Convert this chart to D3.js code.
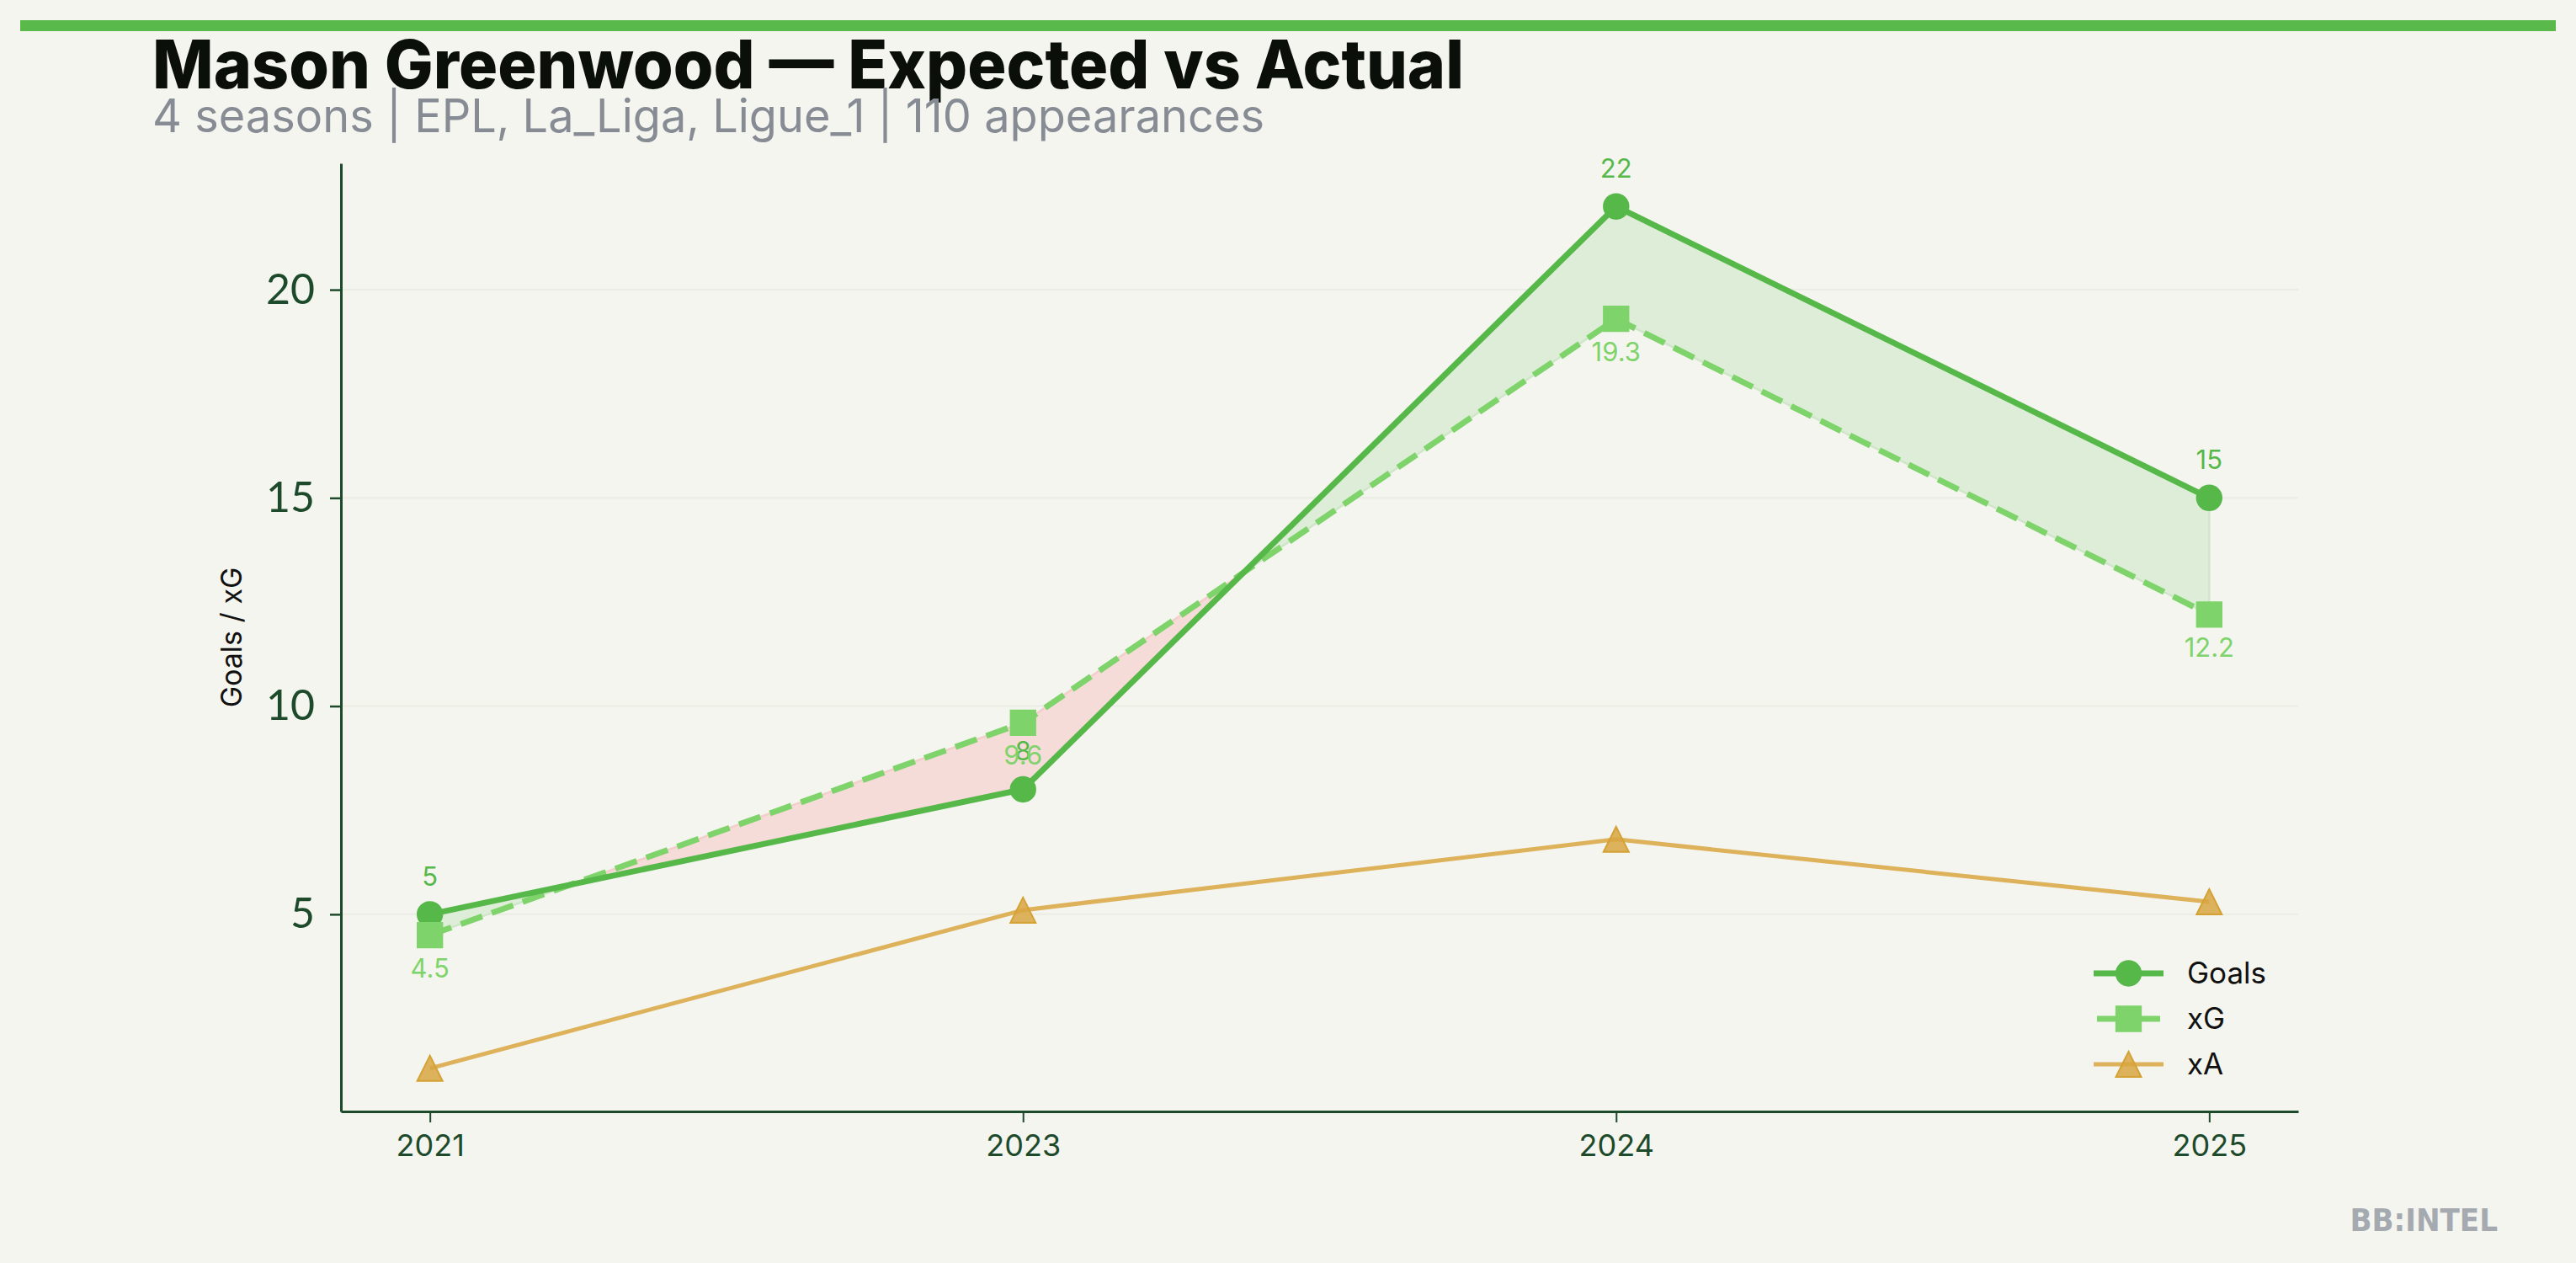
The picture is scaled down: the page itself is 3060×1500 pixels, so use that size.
<!DOCTYPE html>
<html>
<head>
<meta charset="utf-8">
<script src="https://cdn.jsdelivr.net/npm/d3@7"></script>
<style>
  body { margin: 0; background: #f4f5ef; }
  svg { display: block; }
</style>
</head>
<body>
<svg id="chart"></svg>
<script>
var seasons = ["2021", "2023", "2024", "2025"];
var goals = [5, 8, 22, 15];
var xg = [4.5, 9.6, 19.3, 12.2];
var xa = [1.3, 5.1, 6.8, 5.3];
var yTicks = [5, 10, 15, 20];
var legendNames = ["Goals", "xG", "xA"];

var titleText = "Mason Greenwood \u2014 Expected vs Actual";
var subtitleText = "4 seasons | EPL, La_Liga, Ligue_1 | 110 appearances";

var outerWidth = 3060;
var outerHeight = 1500;
var margin = { top: 194, left: 405, right: 330, bottom: 180 };
var width = outerWidth - margin.left - margin.right;
var height = outerHeight - margin.top - margin.bottom;

var cGoals = "#57b84a";
var cXg = "#7ed36a";
var cXa = "#ddb25a";
var cAxis = "#1d4a2a";

var svg = d3.select("#chart").attr("width", outerWidth).attr("height", outerHeight);
svg.append("rect").attr("width", outerWidth).attr("height", outerHeight).attr("fill", "#f4f5ef");

// top bar + titles
svg.append("rect").attr("x", 24).attr("y", 24).attr("width", 3012).attr("height", 13).attr("fill", "#5ab94b");

var title = svg.append("text")
  .attr("x", 181).attr("y", 105)
  .style("font-family", "Inter, 'Noto Sans', sans-serif")
  .style("font-weight", 800)
  .style("font-size", "80px")
  .attr("fill", "#0a0f0a")
  .text(titleText);
if (title.node().getComputedTextLength() > 1558) {
  title.attr("textLength", 1558).attr("lengthAdjust", "spacingAndGlyphs");
}

var sub = svg.append("text")
  .attr("x", 181).attr("y", 157)
  .style("font-family", "Inter, 'Noto Sans', sans-serif")
  .style("font-size", "55px")
  .attr("fill", "#868b94")
  .text(subtitleText);
if (sub.node().getComputedTextLength() > 1321) {
  sub.attr("textLength", 1321).attr("lengthAdjust", "spacingAndGlyphs");
}

var cg = svg.append("g").attr("transform", "translate(" + margin.left + "," + margin.top + ")");

// scales (matplotlib style 5% margins)
var all = goals.concat(xg, xa);
var lo = d3.min(all), hi = d3.max(all);
var pad = (hi - lo) * 0.05;
var y = d3.scaleLinear().domain([lo - pad, hi + pad]).range([height, 0]);
var x = d3.scalePoint().domain(seasons).range([0, width]).padding(0.15);

// grid
cg.append("g").selectAll("line").data(yTicks).enter().append("line")
  .attr("x1", 0).attr("x2", width)
  .attr("y1", (d) => y(d)).attr("y2", (d) => y(d))
  .attr("stroke", "#ebece4").attr("stroke-width", 2);

// fill between goals and xG, split at crossings
var rows = seasons.map((s, i) => ({ x: x(s), g: goals[i], e: xg[i] }));
var segs = [];
var cur = [rows[0]];
for (var i = 0; i < rows.length - 1; i++) {
  var a = rows[i], b = rows[i + 1];
  var da = a.g - a.e, db = b.g - b.e;
  if (da * db < 0) {
    var t = da / (da - db);
    var p = { x: a.x + t * (b.x - a.x), g: a.g + t * (b.g - a.g) };
    p.e = p.g;
    cur.push(p);
    segs.push({ pts: cur, up: da > 0 });
    cur = [p];
  }
  cur.push(b);
}
segs.push({ pts: cur, up: rows[rows.length - 1].g - rows[rows.length - 1].e > 0 });

var area = d3.area().x((d) => d.x).y0((d) => y(d.e)).y1((d) => y(d.g));
cg.append("g").selectAll("path").data(segs).enter().append("path")
  .attr("d", (d) => area(d.pts))
  .attr("fill", (d) => (d.up ? "#ddedd7" : "#f5dcd8"))
  .attr("stroke", (d) => (d.up ? "#d0e6c9" : "#f2cfca"))
  .attr("stroke-width", 2.5);

// axes
var yAxis = d3.axisLeft(y).tickValues(yTicks).tickSize(13).tickPadding(18).tickSizeOuter(0);
var yg = cg.append("g").call(yAxis);
yg.select(".domain").attr("stroke", cAxis).attr("stroke-width", 3);
yg.selectAll(".tick line").attr("stroke", cAxis).attr("stroke-width", 2.5);
yg.selectAll(".tick text")
  .style("font-family", "Lato, Inter, sans-serif")
  .style("font-size", "50px")
  .attr("fill", cAxis);

var xAxis = d3.axisBottom(x).tickSize(13).tickPadding(14).tickSizeOuter(0);
var xgAxis = cg.append("g").attr("transform", "translate(0," + height + ")").call(xAxis);
xgAxis.select(".domain").attr("stroke", cAxis).attr("stroke-width", 3);
xgAxis.selectAll(".tick line").attr("stroke", cAxis).attr("stroke-width", 2);
xgAxis.selectAll(".tick text")
  .style("font-family", "Inter, sans-serif")
  .style("font-size", "36px")
  .attr("fill", cAxis);

svg.append("text")
  .attr("transform", "translate(287," + (margin.top + height / 2) + ") rotate(-90)")
  .attr("text-anchor", "middle")
  .style("font-family", "Inter, sans-serif")
  .style("font-size", "34px")
  .attr("fill", "#111")
  .text("Goals / xG");

// lines
var line = d3.line().x((d, i) => x(seasons[i])).y((d) => y(d));
cg.append("path").attr("d", line(xa)).attr("fill", "none").attr("stroke", cXa).attr("stroke-width", 5);
cg.append("path").attr("d", line(xg)).attr("fill", "none").attr("stroke", cXg).attr("stroke-width", 7).attr("stroke-dasharray", "27,12");
cg.append("path").attr("d", line(goals)).attr("fill", "none").attr("stroke", cGoals).attr("stroke-width", 7);

var triUp = {
  draw: function (ctx, size) {
    var r = Math.sqrt(size) / 2;
    ctx.moveTo(0, -r);
    ctx.lineTo(r, r);
    ctx.lineTo(-r, r);
    ctx.closePath();
  },
};

function markers(vals, type, size, fill, op, stroke) {
  cg.append("g").selectAll("path").data(vals).enter().append("path")
    .attr("transform", (d, i) => "translate(" + x(seasons[i]) + "," + y(d) + ")")
    .attr("d", d3.symbol().type(type).size(size))
    .attr("fill", fill).attr("fill-opacity", op)
    .attr("stroke", stroke).attr("stroke-width", 2);
}
markers(goals, d3.symbolCircle, 680, cGoals, 1, cGoals);
markers(xg, d3.symbolSquare, 860, cXg, 1, cXg);
markers(xa, triUp, 900, "#d8a642", 0.85, "#d5a133");

// value labels
cg.append("g").selectAll("text").data(goals).enter().append("text")
  .attr("x", (d, i) => x(seasons[i])).attr("y", (d) => y(d) - 34)
  .attr("text-anchor", "middle")
  .style("font-family", "Inter, sans-serif").style("font-size", "31px")
  .attr("fill", cGoals)
  .text((d) => d);
cg.append("g").selectAll("text").data(xg).enter().append("text")
  .attr("x", (d, i) => x(seasons[i])).attr("y", (d) => y(d) + 50)
  .attr("text-anchor", "middle")
  .style("font-family", "Inter, sans-serif").style("font-size", "31px")
  .attr("fill", cXg)
  .text((d) => d);

// legend
var lg = svg.append("g").attr("transform", "translate(2487,1156)");
var items = [
  { name: legendNames[0], c: cGoals, sym: d3.symbolCircle, size: 680, dash: null, w: 7, fill: cGoals, op: 1, sc: cGoals, x1: 0, x2: 83 },
  { name: legendNames[1], c: cXg, sym: d3.symbolSquare, size: 860, dash: "30,15", w: 7, fill: cXg, op: 1, sc: cXg, x1: 4, x2: 79 },
  { name: legendNames[2], c: cXa, sym: triUp, size: 900, dash: null, w: 5, fill: "#d8a642", op: 0.85, sc: "#d5a133", x1: 0, x2: 83 },
];
items.forEach((it, i) => {
  var g = lg.append("g").attr("transform", "translate(0," + i * 54 + ")");
  g.append("line").attr("x1", it.x1).attr("x2", it.x2).attr("stroke", it.c).attr("stroke-width", it.w)
    .attr("stroke-dasharray", it.dash);
  g.append("path").attr("transform", "translate(41.5,0)")
    .attr("d", d3.symbol().type(it.sym).size(it.size))
    .attr("fill", it.fill).attr("fill-opacity", it.op).attr("stroke", it.sc).attr("stroke-width", 2);
  g.append("text").attr("x", 111).attr("dy", "0.35em")
    .style("font-family", "Inter, sans-serif").style("font-size", "35px")
    .attr("fill", "#111").text(it.name);
});

// watermark
svg.append("text")
  .attr("x", 2967).attr("y", 1462)
  .attr("text-anchor", "end")
  .style("font-family", "'Liberation Sans Narrow', 'DejaVu Sans Condensed', Roboto, sans-serif")
  .style("font-weight", 700)
  .style("font-size", "38px")
  .attr("fill", "#a5a9b0")
  .text("BB:INTEL");
</script>
</body>
</html>
